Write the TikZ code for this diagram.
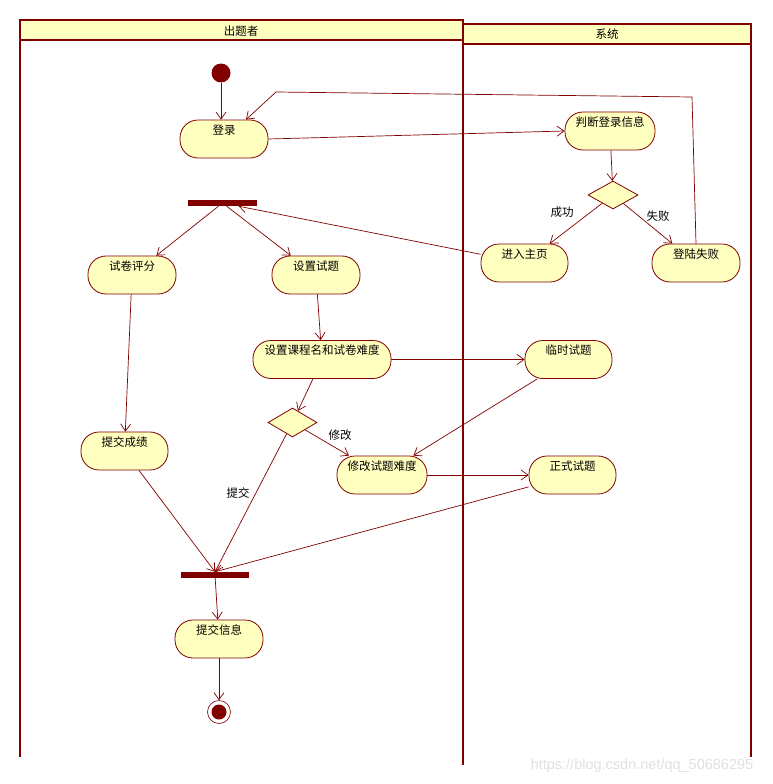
\documentclass[tikz,border=0pt]{standalone}
\usepackage{fontspec}
\newfontfamily\cjk{Noto Sans CJK SC}
\newfontfamily\marksf{Liberation Sans}
\usetikzlibrary{arrows.meta,shapes.geometric}
\definecolor{rosered}{RGB}{128,0,0}
\definecolor{roseyellow}{RGB}{255,255,192}
\tikzset{
  lane/.style={draw=rosered,line width=2.6pt},
  act/.style={draw=rosered,fill=roseyellow,line width=0.8pt,rounded corners=18pt,
    minimum width=88pt,minimum height=38pt,inner sep=1pt,text height=12.5pt,text depth=22.5pt},
  decision/.style={diamond,draw=rosered,fill=roseyellow,line width=0.8pt,
    minimum width=50pt,minimum height=28pt,inner sep=0pt},
  bar/.style={fill=rosered,minimum width=69pt,minimum height=6pt,inner sep=0pt},
  initial/.style={circle,fill=rosered,minimum size=19pt,inner sep=0pt},
  final/.style={circle,draw=rosered,fill=white,line width=0.6pt,minimum size=23pt,inner sep=0pt,
    path picture={\fill[rosered] (path picture bounding box.center) circle (7.5pt);}},
  flow/.style={draw=rosered,line width=0.7pt,-{Straight Barb[length=7pt,width=10pt]}}
}
\begin{document}
\begin{tikzpicture}[x=1pt,y=-1pt,font=\cjk\fontsize{11.5}{13}\selectfont]
    \useasboundingbox (0,0) rectangle (772,784) ;
    % swimlanes
    \draw[lane,fill=roseyellow] (20,20) rectangle (463,40) ;
    \draw[lane] (20,40) -- (20,757) ;
    \draw[lane] (463,40) -- (463,765) ;
    \draw[lane,fill=roseyellow] (463,24) rectangle (751,44) ;
    \draw[lane] (751,44) -- (751,757) ;
    \node (laneteacher) at (241,31) {出题者} ;
    \node (lanesystem) at (607,34) {系统} ;
    % nodes
    \node[initial] (start) at (221,73) {} ;
    \node[act] (login) at (224,139) {登录} ;
    \node[act,minimum width=90pt] (judge) at (610,131) {判断登录信息} ;
    \node[decision] (dec1) at (613,195) {} ;
    \node[act,minimum width=87pt] (home) at (524.5,263) {进入主页} ;
    \node[act] (fail) at (696,263) {登陆失败} ;
    \node[bar] (fork) at (222.5,203) {} ;
    \node[act] (grade) at (132,275) {试卷评分} ;
    \node[act] (setq) at (316,275) {设置试题} ;
    \node[act,minimum width=138pt] (course) at (322,359.5) {设置课程名和试卷难度} ;
    \node[act,minimum width=87pt] (temp) at (568.5,359.5) {临时试题} ;
    \node[decision,minimum width=49pt,minimum height=29pt] (dec2) at (292.5,422.5) {} ;
    \node[act,minimum width=87pt] (score) at (124.5,451) {提交成绩} ;
    \node[act,minimum width=90pt] (modify) at (382,475) {修改试题难度} ;
    \node[act,minimum width=87pt] (formal) at (572.5,475) {正式试题} ;
    \node[bar,minimum width=68pt] (join) at (215,575) {} ;
    \node[act] (submit) at (219,639) {提交信息} ;
    \node[final] (stop) at (219,712) {} ;
    \coordinate (backA) at (692,97) ;
    \coordinate (backB) at (276,92) ;
    % guards
    \node (lblok) at (562,212) {成功} ;
    \node (lblfail) at (658,216) {失败} ;
    \node (lblmod) at (340,435) {修改} ;
    \node (lblsub) at (238,493) {提交} ;
    % flows
    \draw[flow] (start) -- (start |- login.north) ;
    \draw[flow] (login.east) -- (judge.west) ;
    \draw[flow] (judge) -- (dec1) ;
    \draw[flow] (dec1) -- (home) ;
    \draw[flow] (dec1) -- (fail) ;
    \draw[flow] (fail.north) -- (backA) -- (backB) -- ([xshift=22pt]login.north) ;
    \draw[flow] (home) -- (fork) ;
    \draw[flow] (fork) -- (grade) ;
    \draw[flow] (fork) -- (setq) ;
    \draw[flow] (grade) -- (score) ;
    \draw[flow] (setq) -- (course) ;
    \draw[flow] (course) -- (dec2) ;
    \draw[flow] (course.east) -- (temp.west) ;
    \draw[flow] (dec2) -- (modify) ;
    \draw[flow] (temp) -- (modify) ;
    \draw[flow] (modify.east) -- (formal.west) ;
    \draw[flow] (score) -- (join.north) ;
    \draw[flow] (dec2) -- (join.north) ;
    \draw[flow] (formal) -- (join.north) ;
    \draw[flow] (join) -- (submit) ;
    \draw[flow] (submit) -- (stop) ;
    \node[text=black!12,font=\marksf\fontsize{14.5}{15}\selectfont] (mark) at (642,766) {https://blog.csdn.net/qq\_50686295} ;
\end{tikzpicture}
\end{document}
